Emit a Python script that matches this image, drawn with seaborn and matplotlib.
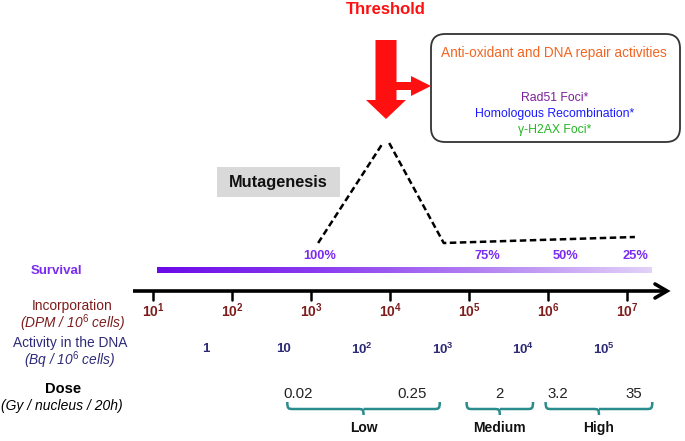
import numpy as np
import matplotlib
matplotlib.use("Agg")
import matplotlib.pyplot as plt
import seaborn as sns
import pandas as pd
from matplotlib.patches import FancyBboxPatch, Rectangle, FancyArrow, PathPatch
from matplotlib.path import Path
from matplotlib.colors import LinearSegmentedColormap

# ---------------- data ----------------
incorp_exponents = [1, 2, 3, 4, 5, 6, 7]
activity_labels = ["1", "10", r"$\mathbf{10^{2}}$", r"$\mathbf{10^{3}}$", r"$\mathbf{10^{4}}$", r"$\mathbf{10^{5}}$"]
activity_pos = [1.67, 2.65, 3.65, 4.67, 5.68, 6.71]
survival_labels = ["100%", "75%", "50%", "25%"]
survival_pos = [3.11, 5.23, 6.22, 7.11]
dose_labels = ["0.02", "0.25", "2", "3.2", "35"]
dose_pos = [2.84, 4.28, 5.39, 6.13, 7.09]
dose_groups = ["Low", "Medium", "High"]
dose_group_span = [(2.70, 4.63), (4.97, 5.81), (5.97, 7.32)]
mutagenesis_seg = ["rise", "rise", "fall", "fall", "fall"]
mutagenesis_x = [3.09, 3.91, 3.99, 4.68, 7.10]
mutagenesis_y = [243, 143, 143, 243, 237]
box_lines = ["Rad51 Foci*", "Homologous Recombination*", "γ-H2AX Foci*"]
box_colors = ["#7a1f9a", "#1a1aff", "#22b522"]

# ---------------- setup ----------------
sns.set_theme(style="white")
plt.rcParams['font.family'] = ['Liberation Sans', 'DejaVu Sans']
plt.rcParams['mathtext.fontset'] = 'custom'
plt.rcParams['mathtext.rm'] = 'Liberation Sans'
plt.rcParams['mathtext.bf'] = 'Liberation Sans:bold'
plt.rcParams['mathtext.it'] = 'Liberation Sans:italic'

fig = plt.figure(figsize=(6.85, 4.41), dpi=100)
ax = fig.add_axes([0, 0, 1, 1])
PX = 79.0  # pixels per decade
def d(px):
    return 1 + (px - 153) / PX

DARKRED = "#7d1c1c"
NAVY = "#2d2a78"
PURPLE = "#7a2cf0"
TEAL = "#2a8c8c"
RED = "#ff1010"

# mutagenesis dashed curve
df = pd.DataFrame({"x": mutagenesis_x, "y": mutagenesis_y, "seg": mutagenesis_seg})
sns.lineplot(data=df, x="x", y="y", units="seg", estimator=None, ax=ax, color="black",
             lw=1.8, sort=False, linestyle=(0, (2.6, 1.4)))

ax.set_xlim(d(0), d(685))
ax.set_ylim(441, 0)
ax.axis("off")

# Threshold
ax.text(d(386), 10, "Threshold", color=RED, fontsize=12, fontweight="bold", ha="center", va="center")
# big down arrow
ax.add_patch(FancyArrow(d(386), 40, 0, 79, width=21 / PX, head_width=40 / PX, head_length=19,
                        length_includes_head=True, color=RED, lw=0, zorder=3))
# side arrow to box (horizontal: width in pixel-y units, head length in decade-x units)
ax.add_patch(FancyArrow(d(394), 86, (431 - 394) / PX, 0, width=8, head_width=20, head_length=20 / PX,
                        length_includes_head=True, color=RED, lw=0, zorder=3))
# rounded box
ax.add_patch(FancyBboxPatch((d(431), 34), (680 - 431) / PX, 108,
                            boxstyle="round,pad=0,rounding_size=0.18", fc="white", ec="#333333", lw=1.3,
                            mutation_aspect=79, zorder=2))
ax.text(d(554), 53, "Anti-oxidant and DNA repair activities", color="#f26522", fontsize=9.8,
        ha="center", va="center", zorder=4)
for i, (t, c) in enumerate(zip(box_lines, box_colors)):
    ax.text(d(555), 98 + i * 16, t, color=c, fontsize=8.8, ha="center", va="center", zorder=4)

ax.add_patch(Rectangle((d(217), 167), (340 - 217) / PX, 30, fc="#d9d9d9", ec="none"))
ax.text(d(278.5), 182, "Mutagenesis", fontsize=11.8, fontweight="bold", ha="center", va="center", color="#111111")

# survival gradient
cmap = LinearSegmentedColormap.from_list("surv", ["#6a0ae8", "#8a3cf0", "#b584f2", "#e2d2f8"])
grad = np.linspace(0, 1, 256).reshape(1, -1)
ax.imshow(grad, cmap=cmap, aspect="auto", extent=(d(157), d(652), 273.5, 267.5), zorder=2)
ax.set_xlim(d(0), d(685)); ax.set_ylim(441, 0)
ax.text(d(56), 271, "Survival", color=PURPLE, fontsize=9.5, fontweight="bold", ha="center", va="center")
for t, p in zip(survival_labels, survival_pos):
    ax.text(p, 256, t, color=PURPLE, fontsize=9.3, fontweight="bold", ha="center", va="center")

# main axis
ax.plot([d(133), d(667)], [291, 291], color="black", lw=2.6, solid_capstyle="butt")
ax.plot([d(655), d(667), d(655)], [284, 291, 298], color="black", lw=2.6, solid_joinstyle="miter")
for e in incorp_exponents:
    ax.plot([e, e], [291, 300], color="black", lw=1.8)
    ax.text(e, 311, r"$\mathbf{10^{%d}}$" % e, color=DARKRED, fontsize=10, ha="center", va="center")
ax.text(d(72), 306, "Incorporation", color=DARKRED, fontsize=9.9, ha="center", va="center")
ax.text(d(72), 323, r"(DPM / 10$^{6}$ cells)", color=DARKRED, fontsize=9.9, style="italic", ha="center", va="center")

# activity
for t, p in zip(activity_labels, activity_pos):
    ax.text(p, 349, t, color=NAVY, fontsize=9.5, fontweight="bold", ha="center", va="center")
ax.text(d(70), 343, "Activity in the DNA", color=NAVY, fontsize=9.9, ha="center", va="center")
ax.text(d(70), 360, r"(Bq / 10$^{6}$ cells)", color=NAVY, fontsize=9.9, style="italic", ha="center", va="center")

# dose
ax.text(d(63), 389, "Dose", color="black", fontsize=10.5, fontweight="bold", ha="center", va="center")
ax.text(d(62), 406, "(Gy / nucleus / 20h)", color="black", fontsize=10, style="italic", ha="center", va="center")
for t, p in zip(dose_labels, dose_pos):
    ax.text(p, 394, t, color="#222222", fontsize=10.8, ha="center", va="center")

def brace(x0, x1, ytop=402, ybot=415):
    xm = (x0 + x1) / 2
    r = 6 / PX
    yh = 409
    codes = [Path.MOVETO, Path.CURVE4, Path.CURVE4, Path.CURVE4,
             Path.LINETO, Path.CURVE4, Path.CURVE4, Path.CURVE4,
             Path.MOVETO, Path.CURVE4, Path.CURVE4,
             Path.LINETO, Path.CURVE4, Path.CURVE4, Path.CURVE4]
    verts = [(x0, ytop), (x0, yh), (x0 + r * 0.2, yh), (x0 + r, yh),
             (xm - r, yh), (xm - r * 0.2, yh), (xm, yh), (xm, ybot),
             (xm, yh), (xm + r * 0.2, yh), (xm + r, yh),
             (x1 - r, yh), (x1 - r * 0.2, yh), (x1, yh), (x1, ytop)]
    ax.add_patch(PathPatch(Path(verts, codes), fc="none", ec=TEAL, lw=1.8))

for name, (a, b) in zip(dose_groups, dose_group_span):
    brace(a, b)
    ax.text((a + b) / 2, 428, name, color="#111111", fontsize=10, fontweight="bold", ha="center", va="center")

fig.savefig("out.png", dpi=100)
